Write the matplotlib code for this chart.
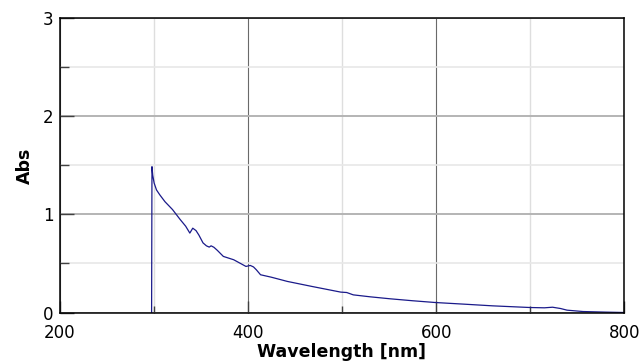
import numpy as np
import matplotlib.pyplot as plt
from matplotlib.ticker import MultipleLocator

# absorption spectrum
wavelength = [297.8, 298.2, 299, 300.5, 303, 306.5, 312, 320, 328, 334, 338.4,
              341.5, 345, 348, 352.4, 356, 359, 361, 364, 367.7, 374, 385,
              398, 402.6, 406, 409, 413.5, 425, 442, 468, 498.7, 505, 512,
              530, 551, 575, 599, 630, 660, 699.6, 715, 723.6, 732, 739, 756,
              780, 800]
absorbance = [0.0, 1.487, 1.40, 1.32, 1.25, 1.20, 1.13, 1.05, 0.95, 0.88, 0.81,
              0.86, 0.835, 0.79, 0.71, 0.68, 0.667, 0.68, 0.665, 0.633, 0.572, 0.538,
              0.47, 0.48, 0.465, 0.436, 0.385, 0.36, 0.317, 0.266, 0.208, 0.204, 0.18,
              0.16, 0.14, 0.12, 0.102, 0.085, 0.068, 0.051, 0.048, 0.054, 0.041, 0.024, 0.010,
              0.004, 0.0]

fig = plt.figure(figsize=(6.44, 3.62), dpi=100)
ax = fig.add_axes([0.0924, 0.1367, 0.8773, 0.8127])

ax.plot(wavelength, absorbance, color='#1a1a8a', lw=0.9)

ax.set_xlim(200, 800)
ax.set_ylim(0, 3)
ax.xaxis.set_major_locator(MultipleLocator(200))
ax.xaxis.set_minor_locator(MultipleLocator(100))
ax.yaxis.set_major_locator(MultipleLocator(1))
ax.yaxis.set_minor_locator(MultipleLocator(0.5))

# grid: darker verticals, grey horizontals, faint minors
ax.xaxis.grid(True, which='major', color='#6a6a6a', lw=0.8)
ax.xaxis.grid(True, which='minor', color='#dedede', lw=1.0)
ax.yaxis.grid(True, which='major', color='#b4b4b4', lw=1.4)
ax.yaxis.grid(True, which='minor', color='#e8e8e8', lw=1.2)
ax.set_axisbelow(True)

ax.tick_params(axis='x', which='major', direction='in', length=8.6, width=1,
               color='#404040', pad=8, labelsize=12)
ax.tick_params(axis='x', which='minor', direction='in', length=5, width=1,
               color='#404040')
ax.tick_params(axis='y', which='major', direction='in', length=10, width=1,
               color='#404040', pad=4.5, labelsize=12)
ax.tick_params(axis='y', which='minor', direction='in', length=6.5, width=1,
               color='#404040')

for s in ax.spines.values():
    s.set_color('black')
    s.set_linewidth(1.1)

ax.set_xlabel('Wavelength [nm]', fontsize=12.5, fontweight='bold')
ax.set_ylabel('Abs', fontsize=12.5, fontweight='bold')
ax.xaxis.set_label_coords(0.5, -0.104)
ax.yaxis.set_label_coords(-0.045, 0.5)

fig.savefig('out.png', dpi=100)
